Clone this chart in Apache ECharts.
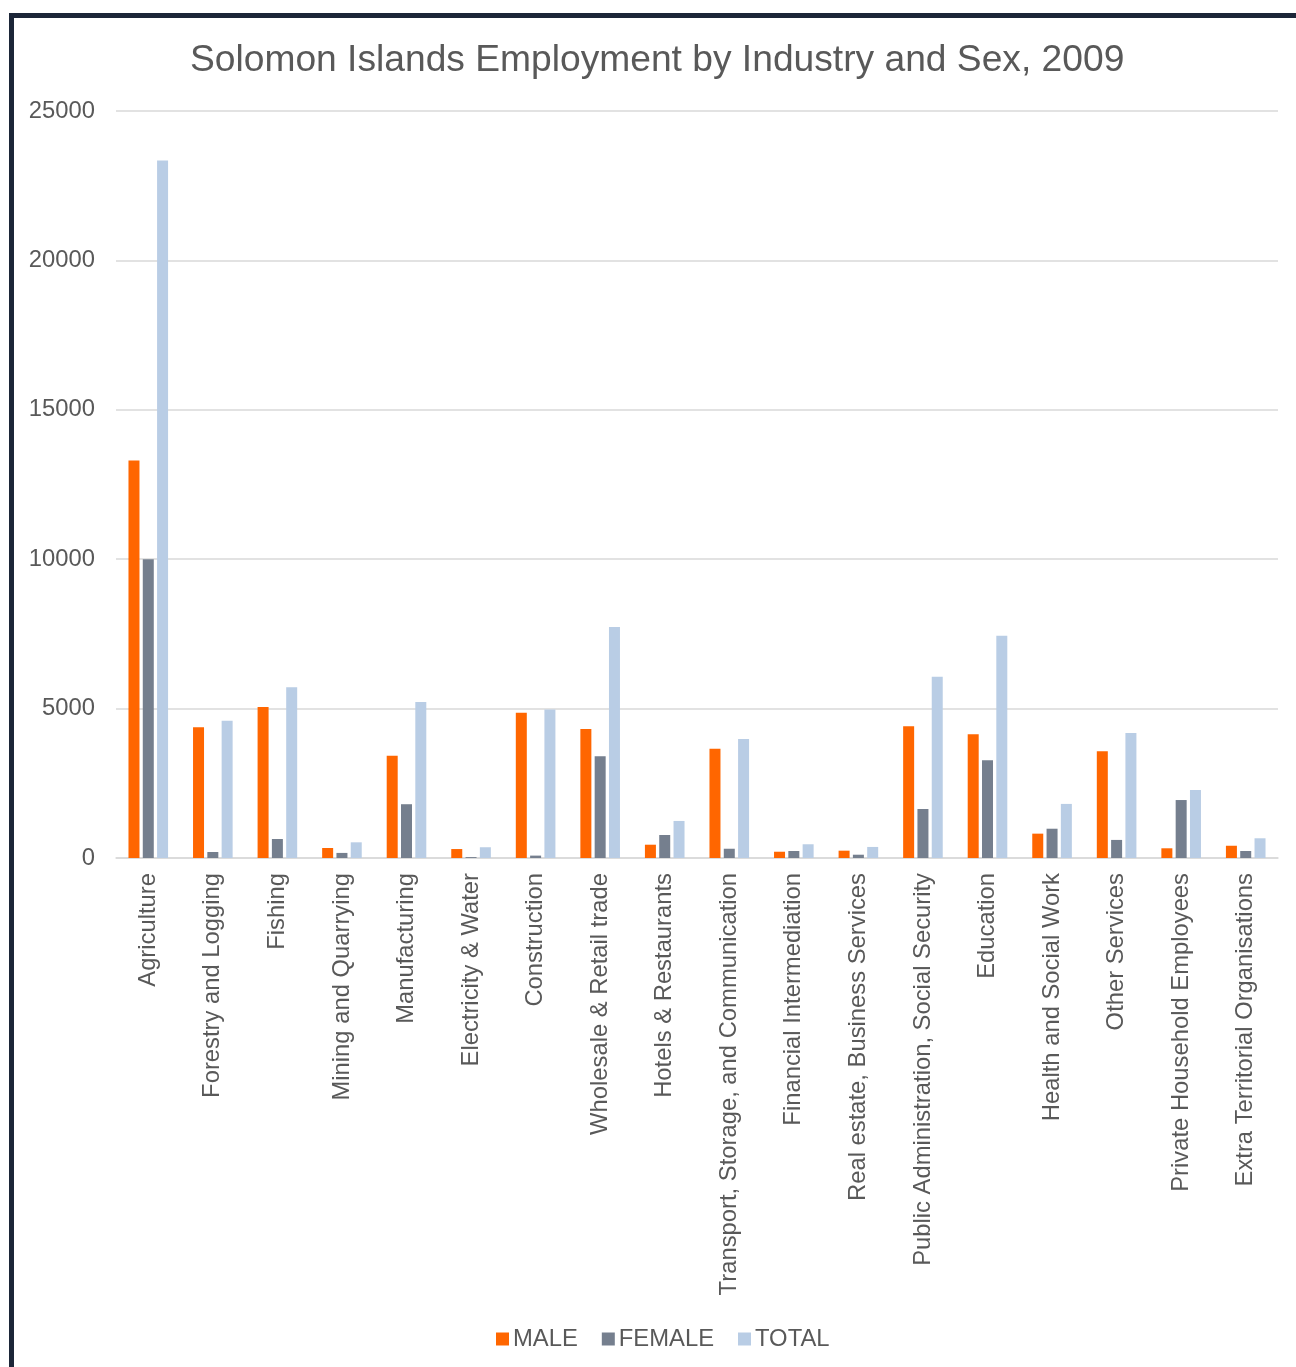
<!DOCTYPE html>
<html>
<head>
<meta charset="utf-8">
<script src="https://cdn.jsdelivr.net/npm/echarts@6/dist/echarts.min.js"></script>
<style>
  html, body { margin: 0; padding: 0; background: #ffffff; }
  #chart { width: 1296px; height: 1367px; }
</style>
</head>
<body>
<div id="chart"></div>
<script>
// Employment by industry, Solomon Islands 2009
const industries = [
  'Agriculture', 'Forestry and Logging', 'Fishing', 'Mining and Quarrying',
  'Manufacturing', 'Electricity & Water', 'Construction', 'Wholesale & Retail trade',
  'Hotels & Restaurants', 'Transport, Storage, and Communication',
  'Financial Intermediation', 'Real estate, Business Services',
  'Public Administration, Social Security', 'Education', 'Health and Social Work',
  'Other Services', 'Private Household Employees', 'Extra Territorial Organisations'
];
const male   = [13300, 4380, 5050, 335, 3420, 300, 4860, 4320, 445, 3660, 210, 245, 4410, 4140, 815, 3575, 325, 410];
const female = [10000, 200, 635, 170, 1800, 30, 80, 3405, 770, 310, 235, 110, 1640, 3270, 980, 605, 1940, 235];
const total  = [23340, 4590, 5715, 525, 5225, 360, 4970, 7735, 1240, 3985, 460, 370, 6070, 7435, 1810, 4185, 2275, 660];
const yTicks = [0, 5000, 10000, 15000, 20000, 25000];

const FONT = '"Liberation Sans", Arial, sans-serif';
const TEXT = '#595959';
const GRID = '#d9d9d9';

const chart = echarts.init(document.getElementById('chart'), null, { renderer: 'canvas' });

function barSeries(name, data, color) {
  return {
    name: name,
    type: 'bar',
    data: data,
    barWidth: 11,
    barGap: '30%',
    itemStyle: { color: color }
  };
}

chart.setOption({
  animation: false,
  backgroundColor: '#ffffff',
  textStyle: { fontFamily: FONT },
  graphic: [{
    type: 'rect',
    z: 100,
    silent: true,
    shape: { x: 11.5, y: 15.5, width: 1400, height: 1400 },
    style: { fill: 'none', stroke: '#1c2638', lineWidth: 5 }
  }],
  title: {
    text: 'Solomon Islands Employment by Industry and Sex, 2009',
    left: 190,
    top: 42,
    padding: 0,
    textStyle: { color: TEXT, fontSize: 37.2, fontWeight: 'normal', fontFamily: FONT }
  },
  legend: {
    data: ['MALE', 'FEMALE', 'TOTAL'],
    left: 496,
    top: 1327,
    padding: 0,
    icon: 'rect',
    itemWidth: 13,
    itemHeight: 13,
    itemGap: 24,
    textStyle: { color: TEXT, fontSize: 23.8, fontFamily: FONT, padding: [0, 0, 0, -1] }
  },
  grid: { left: 116, right: 18, top: 111, bottom: 509, containLabel: false },
  xAxis: {
    type: 'category',
    data: industries,
    axisTick: { show: false },
    axisLine: { lineStyle: { color: GRID, width: 1.5 } },
    axisLabel: {
      interval: 0,
      rotate: 90,
      margin: 15,
      color: TEXT,
      fontSize: 23.8,
      fontFamily: FONT
    }
  },
  yAxis: {
    type: 'value',
    min: yTicks[0],
    max: yTicks[yTicks.length - 1],
    interval: yTicks[1] - yTicks[0],
    axisLine: { show: false },
    axisTick: { show: false },
    splitLine: { lineStyle: { color: GRID, width: 1.5 } },
    axisLabel: {
      margin: 21,
      color: TEXT,
      fontSize: 23.8,
      fontFamily: FONT,
      formatter: function (v) { return String(v); }
    }
  },
  series: [
    barSeries('MALE', male, '#ff6600'),
    barSeries('FEMALE', female, '#757f8e'),
    barSeries('TOTAL', total, '#b9cde5')
  ]
});
</script>
</body>
</html>
